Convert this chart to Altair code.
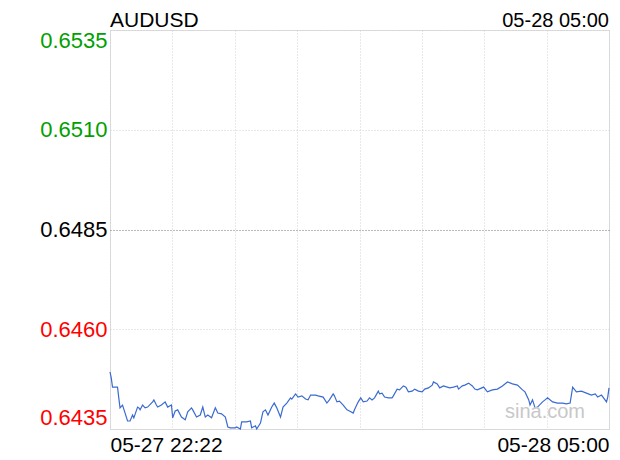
import altair as alt
import pandas as pd

symbol = "AUDUSD"
header_time = "05-28 05:00"
x_tick_labels = ["05-27 22:22", "05-28 05:00"]
span_minutes = 398
prev_close = 0.6485
y_ticks = [0.6435, 0.6460, 0.6485, 0.6510, 0.6535]

minutes = [0, 1, 2, 6, 7, 8, 10, 14, 16, 18, 19, 22, 23, 24, 26, 28, 30, 34, 35, 37,
           38, 41, 44, 46, 49, 50, 52, 54, 57, 60, 62, 65, 66, 69, 72, 74, 76, 78, 81, 84,
           86, 89, 92, 94, 96, 100, 101, 104, 105, 109, 112, 113, 116, 117, 120, 122, 124, 126, 129, 131,
           133, 136, 138, 141, 144, 145, 148, 150, 153, 156, 158, 160, 164, 166, 170, 173, 175, 178, 179, 181,
           183, 186, 189, 191, 194, 195, 198, 200, 202, 205, 207, 209, 211, 214, 215, 217, 219, 222, 225, 226,
           229, 231, 234, 236, 238, 241, 243, 246, 249, 251, 254, 257, 258, 261, 263, 266, 269, 271, 274, 277,
           278, 281, 283, 286, 289, 291, 293, 298, 301, 305, 309, 313, 317, 321, 325, 329, 331, 334, 335, 337,
           339, 341, 345, 347, 349, 353, 357, 361, 364, 367, 369, 372, 376, 380, 384, 387, 389, 392, 396, 397,
           398]
prices = [0.64493, 0.64478, 0.64455, 0.64455, 0.64428, 0.64403, 0.64410, 0.64370, 0.64370, 0.64385,
          0.64378, 0.64405, 0.64403, 0.64398, 0.64410, 0.64403, 0.64405, 0.64418, 0.64423, 0.64410,
          0.64405, 0.64410, 0.64418, 0.64405, 0.64410, 0.64378, 0.64395, 0.64398, 0.64380, 0.64373,
          0.64393, 0.64403, 0.64398, 0.64380, 0.64385, 0.64405, 0.64380, 0.64385, 0.64378, 0.64403,
          0.64390, 0.64388, 0.64380, 0.64355, 0.64353, 0.64353, 0.64355, 0.64350, 0.64368, 0.64368,
          0.64370, 0.64353, 0.64358, 0.64350, 0.64365, 0.64393, 0.64398, 0.64385, 0.64405, 0.64415,
          0.64403, 0.64380, 0.64405, 0.64415, 0.64428, 0.64425, 0.64438, 0.64430, 0.64433, 0.64425,
          0.64423, 0.64435, 0.64435, 0.64433, 0.64430, 0.64415, 0.64423, 0.64438, 0.64433, 0.64418,
          0.64420, 0.64410, 0.64398, 0.64395, 0.64390, 0.64398, 0.64418, 0.64428, 0.64418, 0.64420,
          0.64428, 0.64423, 0.64428, 0.64445, 0.64438, 0.64440, 0.64430, 0.64428, 0.64428, 0.64433,
          0.64450, 0.64448, 0.64458, 0.64455, 0.64443, 0.64445, 0.64450, 0.64445, 0.64443, 0.64450,
          0.64453, 0.64460, 0.64468, 0.64463, 0.64453, 0.64458, 0.64455, 0.64453, 0.64455, 0.64458,
          0.64450, 0.64458, 0.64460, 0.64465, 0.64458, 0.64450, 0.64448, 0.64455, 0.64443, 0.64448,
          0.64450, 0.64458, 0.64468, 0.64463, 0.64460, 0.64448, 0.64443, 0.64423, 0.64410, 0.64423,
          0.64403, 0.64405, 0.64418, 0.64423, 0.64428, 0.64418, 0.64415, 0.64415, 0.64413, 0.64415,
          0.64455, 0.64443, 0.64445, 0.64440, 0.64435, 0.64438, 0.64430, 0.64435, 0.64418, 0.64430,
          0.64453]

df = pd.DataFrame({"t": minutes, "price": prices})

W, H = 499, 399
FONT = "Liberation Sans"

x_grid_values = [span_minutes * k / 8 for k in range(9)]
label_expr = (f"datum.value == 0 ? '{x_tick_labels[0]}' : "
              f"(datum.value == {span_minutes} ? '{x_tick_labels[1]}' : '')")

line = alt.Chart(df).mark_line(color="#3a6bd0", strokeWidth=1.2).encode(
    x=alt.X("t:Q",
            scale=alt.Scale(domain=[0, span_minutes], nice=False, zero=False),
            axis=alt.Axis(values=x_grid_values, labelExpr=label_expr, title=None,
                          labelFlush=True, ticks=False, domain=False,
                          labelFontSize=21, labelFont=FONT, labelColor="#000",
                          labelPadding=5, labelOverlap=False,
                          grid=True, gridColor="#d0d0d0", gridDash=[1, 2])),
    y=alt.Y("price:Q",
            scale=alt.Scale(domain=[y_ticks[0], y_ticks[-1]], nice=False, zero=False),
            axis=alt.Axis(values=y_ticks, format=".4f", title=None,
                          labelFlush=True, ticks=False, domain=False,
                          labelFontSize=22, labelFont=FONT, labelPadding=3,
                          labelColor={"condition": [
                              {"test": f"datum.value > {prev_close} + 1e-9", "value": "#00a000"},
                              {"test": f"datum.value < {prev_close} - 1e-9", "value": "#ff0000"}],
                              "value": "#000000"},
                          grid=True,
                          gridColor={"condition": {"test": f"abs(datum.value - {prev_close}) < 1e-9",
                                                   "value": "#777777"},
                                     "value": "#d0d0d0"},
                          gridDash=[1, 2])),
)

one = pd.DataFrame({"a": [0]})

title_left = alt.Chart(one).mark_text(align="left", baseline="alphabetic", fontSize=21,
                                       font=FONT, color="#000").encode(
    x=alt.value(0), y=alt.value(-3), text=alt.value(symbol))
title_right = alt.Chart(one).mark_text(align="right", baseline="alphabetic", fontSize=20,
                                        font=FONT, color="#000").encode(
    x=alt.value(W), y=alt.value(-3), text=alt.value(header_time))
watermark = alt.Chart(one).mark_text(align="center", baseline="middle", fontSize=20,
                                      font=FONT, color="#c8c8c8").encode(
    x=alt.value(435), y=alt.value(382), text=alt.value("sina.com"))

chart = alt.layer(line, watermark, title_left, title_right).properties(
    width=W, height=H,
    autosize=alt.AutoSizeParams(type="none"),
    padding={"left": 102, "top": 22, "right": 3, "bottom": 30},
).configure_view(stroke="#cccccc", strokeWidth=1).configure(background="white")

chart.save("out.html", embed_options={"renderer": "svg", "actions": False})
